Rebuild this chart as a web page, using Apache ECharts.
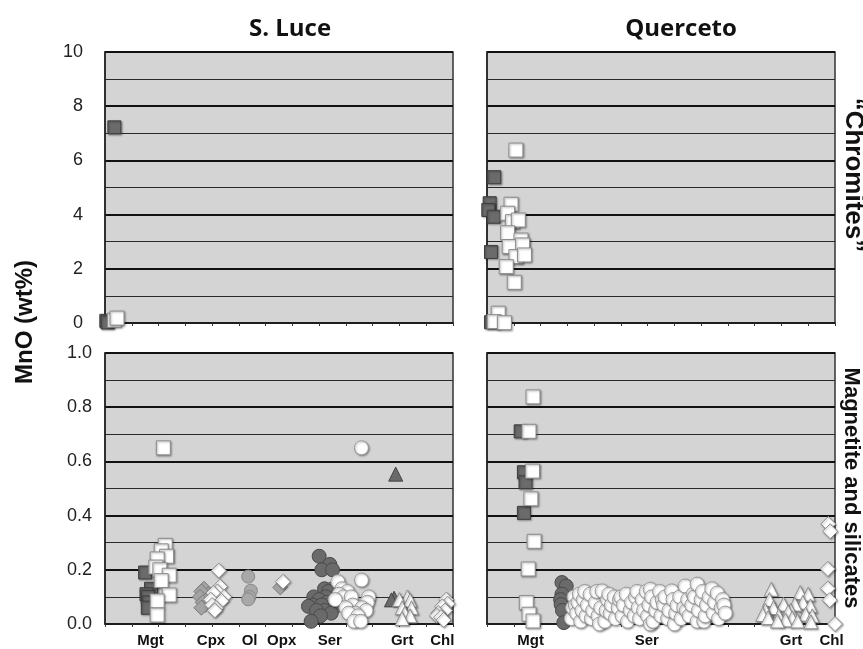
<!DOCTYPE html>
<html>
<head>
<meta charset="utf-8">
<script src="https://cdn.jsdelivr.net/npm/echarts@6/dist/echarts.min.js"></script>
<style>
  html, body { margin: 0; padding: 0; background: #ffffff; }
  #chart { width: 863px; height: 649px; }
</style>
</head>
<body>
<div id="chart"></div>
<script>
// ---- Panel titles and axis texts ----
const siteNames = ['S. Luce', 'Querceto'];
const yAxisTitle = 'MnO (wt%)';
const rowTitles = ['\u201CChromites\u201D', 'Magnetite and silicates'];

// ---- Mineral labels along the bottom axes (position in axis units) ----
const sLuceMinerals = ['Mgt', 'Cpx', 'Ol', 'Opx', 'Ser', 'Grt', 'Chl'];
const sLuceMineralAt = [1.7, 3.96, 5.4, 6.6, 8.4, 11.1, 12.6];
const quercetoMinerals = ['Mgt', 'Ser', 'Grt', 'Chl'];
const quercetoMineralAt = [1.63, 5.97, 11.36, 12.87];
const xTickValues = [0, 1, 2, 3, 4, 5, 6, 7, 8, 9, 10, 11, 12, 13];

// ---- S. Luce, chromite grains: [slot, MnO wt%] ----
const slChrDark = [[0.35, 7.22], [0.05, 0.08], [0.1, 0.02]];
const slChrWhite = [[0.35, 0.1], [0.45, 0.18]];

// ---- Querceto, chromite grains ----
const qcChrDark = [[0.27, 5.38], [0.1, 4.42], [0.05, 4.17], [0.25, 3.92], [0.15, 2.62], [0.15, 0.03]];
const qcChrWhite = [[1.08, 6.38], [0.9, 4.38], [0.77, 4.05], [0.95, 3.74], [1.17, 3.8], [0.77, 3.33],
  [1.27, 3.06], [0.83, 2.82], [1.33, 2.88], [1.08, 2.45], [1.4, 2.51], [0.72, 2.08], [1.02, 1.5],
  [0.42, 0.36], [0.27, 0.05], [0.65, 0.01]];

// ---- S. Luce, magnetite and silicates ----
const slMgtDark = [[1.5, 0.19], [1.72, 0.13], [1.55, 0.11], [1.6, 0.10], [1.65, 0.08], [1.6, 0.06]];
const slMgtWhite = [[2.18, 0.65], [2.25, 0.29], [2.1, 0.27], [2.3, 0.25], [1.95, 0.24], [1.9, 0.21],
  [2.05, 0.2], [2.4, 0.18], [2.1, 0.16], [2.4, 0.107], [1.95, 0.085], [1.95, 0.033]];
const slCpxGray = [[3.7, 0.13], [3.85, 0.11], [3.6, 0.12], [3.55, 0.10], [3.8, 0.09], [3.65, 0.08],
  [3.75, 0.07], [3.6, 0.06]];
const slCpxWhite = [[4.25, 0.197], [4.3, 0.138], [4.2, 0.12], [4.05, 0.114], [4.45, 0.1], [3.95, 0.09],
  [4.35, 0.085], [4.0, 0.07], [4.15, 0.059], [4.1, 0.05]];
const slOl = [[5.35, 0.175], [5.45, 0.123], [5.4, 0.1], [5.35, 0.091]];
const slOpxGray = [[6.55, 0.135]];
const slOpxWhite = [[6.65, 0.156]];
const slSerDark = [[8.0, 0.25], [8.4, 0.22], [8.1, 0.2], [8.5, 0.2], [8.2, 0.13], [8.5, 0.13],
  [8.35, 0.12], [7.8, 0.1], [8.6, 0.1], [8.25, 0.1], [8.0, 0.09], [8.3, 0.08], [7.75, 0.07],
  [8.1, 0.07], [7.6, 0.065], [8.55, 0.06], [8.2, 0.05], [7.9, 0.05], [8.45, 0.04], [8.05, 0.03],
  [7.7, 0.01]];
const slSerWhite = [[9.58, 0.65], [9.58, 0.162], [8.7, 0.156], [8.85, 0.13], [9.05, 0.12], [8.75, 0.11],
  [8.9, 0.1], [9.2, 0.1], [9.85, 0.1], [8.6, 0.09], [9.8, 0.08], [9.25, 0.07], [9.0, 0.06],
  [9.6, 0.06], [9.75, 0.05], [9.35, 0.04], [9.1, 0.04], [9.45, 0.03], [9.3, 0.01], [9.55, 0.01]];
const slGrtDark = [[10.86, 0.553], [10.8, 0.095], [10.7, 0.089]];
const slGrtWhite = [[11.3, 0.1], [11.0, 0.09], [11.4, 0.088], [11.45, 0.06], [11.1, 0.06],
  [11.2, 0.04], [11.4, 0.03], [11.1, 0.02]];
const slChl = [[12.75, 0.09], [12.8, 0.075], [12.6, 0.065], [12.7, 0.05], [12.45, 0.04],
  [12.4, 0.03], [12.55, 0.025], [12.65, 0.015]];

// ---- Querceto, magnetite and silicates ----
const qcMgtDark = [[1.26, 0.711], [1.38, 0.56], [1.44, 0.523], [1.38, 0.41]];
const qcMgtWhite = [[1.72, 0.838], [1.57, 0.711], [1.7, 0.564], [1.64, 0.462], [1.76, 0.305],
  [1.54, 0.203], [1.47, 0.079], [1.57, 0.036], [1.72, 0.011]];
const qcSerDark = [[2.8, 0.153], [2.96, 0.14], [2.8, 0.11], [2.75, 0.09], [2.77, 0.072],
  [2.82, 0.05], [2.87, 0.005]];
const qcSerWhite = [
  [3.15, 0.02], [3.2, 0.06], [3.25, 0.1], [3.3, 0.07], [3.35, 0.04], [3.4, 0.08], [3.45, 0.11],
  [3.5, 0.01], [3.55, 0.05], [3.6, 0.09], [3.65, 0.12], [3.7, 0.03], [3.75, 0.07], [3.85, 0.11],
  [3.9, 0.02], [3.95, 0.05], [4.05, 0.08], [4.1, 0.12], [4.15, 0.03], [4.2, 0.0], [4.25, 0.06],
  [4.3, 0.122], [4.4, 0.01], [4.45, 0.05], [4.5, 0.09], [4.55, 0.11], [4.6, 0.04], [4.65, 0.07],
  [4.75, 0.1], [4.8, 0.02], [4.9, 0.06], [4.95, 0.09], [5.0, 0.1], [5.05, 0.03], [5.1, 0.07],
  [5.2, 0.11], [5.25, 0.01], [5.35, 0.05], [5.4, 0.08], [5.5, 0.03], [5.55, 0.1], [5.6, 0.12],
  [5.65, 0.06], [5.7, 0.02], [5.8, 0.09], [5.85, 0.05], [5.95, 0.12], [6.0, 0.03], [6.05, 0.07],
  [6.1, 0.128], [6.1, 0.0], [6.15, 0.1], [6.2, 0.01], [6.3, 0.05], [6.35, 0.08], [6.45, 0.12],
  [6.5, 0.03], [6.55, 0.09], [6.6, 0.07], [6.65, 0.1], [6.75, 0.02], [6.8, 0.05], [6.9, 0.122],
  [6.95, 0.09], [7.0, 0.0], [7.05, 0.04], [7.1, 0.07], [7.2, 0.1], [7.25, 0.02], [7.35, 0.06],
  [7.4, 0.14], [7.45, 0.05], [7.5, 0.09], [7.55, 0.03], [7.65, 0.07], [7.7, 0.11], [7.75, 0.1],
  [7.85, 0.147], [7.85, 0.01], [7.9, 0.05], [8.0, 0.09], [8.05, 0.12], [8.1, 0.01], [8.15, 0.03],
  [8.2, 0.07], [8.3, 0.1], [8.4, 0.13], [8.45, 0.04], [8.5, 0.08], [8.6, 0.114], [8.65, 0.02],
  [8.75, 0.06], [8.8, 0.09], [8.85, 0.07], [8.9, 0.04]];
const qcGrtLight = [[10.4, 0.04], [10.6, 0.03], [11.3, 0.035], [11.6, 0.04], [10.95, 0.05]];
const qcGrtWhite = [[10.62, 0.128], [11.7, 0.116], [12.0, 0.11], [10.55, 0.09], [11.8, 0.08],
  [11.08, 0.073], [11.5, 0.073], [12.08, 0.067], [10.7, 0.06], [10.4, 0.05], [11.35, 0.05],
  [11.25, 0.045], [11.9, 0.036], [10.3, 0.035], [10.9, 0.03], [12.15, 0.03], [11.4, 0.023],
  [10.5, 0.023], [11.15, 0.015], [10.85, 0.011], [11.6, 0.011], [12.1, 0.008]];
const qcChl = [[12.75, 0.369], [12.82, 0.342], [12.73, 0.203], [12.73, 0.131], [12.8, 0.088], [13.0, 0.0]];

// ---- Marker styles (scatter defaults to 0.8 opacity, so force solid fills) ----
const shadow = { shadowColor: 'rgba(0,0,0,0.35)', shadowBlur: 2, shadowOffsetX: 1, shadowOffsetY: 1 };
const styles = {
  darkSquare:  { symbol: 'rect', symbolSize: 13, itemStyle: { color: '#6b6b6b', borderColor: '#3f3f3f', borderWidth: 1, opacity: 1, ...shadow } },
  whiteSquare: { symbol: 'rect', symbolSize: 14, itemStyle: { color: '#ffffff', borderColor: '#8c8c8c', borderWidth: 1, opacity: 1, ...shadow } },
  grayDiamond: { symbol: 'diamond', symbolSize: 15, itemStyle: { color: '#a3a3a3', borderColor: '#7a7a7a', borderWidth: 1, opacity: 1 } },
  whiteDiamond:{ symbol: 'diamond', symbolSize: 15, itemStyle: { color: '#ffffff', borderColor: '#8c8c8c', borderWidth: 1, opacity: 1, ...shadow } },
  grayCircle:  { symbol: 'circle', symbolSize: 13, itemStyle: { color: '#a8a8a8', borderColor: '#888888', borderWidth: 1, opacity: 1 } },
  darkCircle:  { symbol: 'circle', symbolSize: 14, itemStyle: { color: '#6a6a6a', borderColor: '#4a4a4a', borderWidth: 1, opacity: 1 } },
  whiteCircle: { symbol: 'circle', symbolSize: 14, itemStyle: { color: '#ffffff', borderColor: '#9a9a9a', borderWidth: 1, opacity: 1, ...shadow } },
  darkTriangle:{ symbol: 'triangle', symbolSize: 14, itemStyle: { color: '#6a6a6a', borderColor: '#444444', borderWidth: 1, opacity: 1 } },
  lightTriangle:{ symbol: 'triangle', symbolSize: 14, itemStyle: { color: '#c9c9c9', borderColor: '#8c8c8c', borderWidth: 1, opacity: 1 } },
  whiteTriangle:{ symbol: 'triangle', symbolSize: 14, itemStyle: { color: '#ffffff', borderColor: '#8c8c8c', borderWidth: 1, opacity: 1, ...shadow } }
};

// grid index: 0 = S. Luce chromites, 1 = Querceto chromites, 2 = S. Luce silicates, 3 = Querceto silicates
const layers = [
  [slChrDark, 'darkSquare', 0], [slChrWhite, 'whiteSquare', 0],
  [qcChrDark, 'darkSquare', 1], [qcChrWhite, 'whiteSquare', 1],
  [slMgtDark, 'darkSquare', 2], [slMgtWhite, 'whiteSquare', 2],
  [slCpxGray, 'grayDiamond', 2], [slCpxWhite, 'whiteDiamond', 2],
  [slOl, 'grayCircle', 2],
  [slOpxGray, 'grayDiamond', 2], [slOpxWhite, 'whiteDiamond', 2],
  [slSerDark, 'darkCircle', 2], [slSerWhite, 'whiteCircle', 2],
  [slGrtDark, 'darkTriangle', 2], [slGrtWhite, 'whiteTriangle', 2],
  [slChl, 'whiteDiamond', 2],
  [qcMgtDark, 'darkSquare', 3], [qcMgtWhite, 'whiteSquare', 3],
  [qcSerDark, 'darkCircle', 3], [qcSerWhite, 'whiteCircle', 3],
  [qcGrtLight, 'lightTriangle', 3], [qcGrtWhite, 'whiteTriangle', 3],
  [qcChl, 'whiteDiamond', 3]
];

const series = layers.map(([data, key, g]) => ({
  type: 'scatter',
  xAxisIndex: g,
  yAxisIndex: g,
  data: data,
  clip: false,
  symbol: styles[key].symbol,
  symbolSize: styles[key].symbolSize,
  itemStyle: styles[key].itemStyle,
  emphasis: { disabled: true }
}));

const gridBox = [
  { left: 105, top: 52, width: 348, height: 271 },
  { left: 487, top: 52, width: 348, height: 271 },
  { left: 105, top: 353, width: 348, height: 271 },
  { left: 487, top: 353, width: 348, height: 271 }
];
const grids = gridBox.map(b => ({
  ...b, show: true, backgroundColor: '#d4d4d4', borderColor: '#333333', borderWidth: 1.5
}));

function xAxisFor(g, names, at) {
  const labelled = !!names;
  return {
    type: 'value', gridIndex: g, min: 0, max: 13, interval: 1,
    axisLine: { show: true, onZero: false, lineStyle: { color: '#222222', width: 1.5 } },
    axisTick: { show: true, length: 3, customValues: xTickValues, lineStyle: { color: '#333333' } },
    splitLine: { show: false },
    axisLabel: labelled ? {
      show: true,
      customValues: at,
      formatter: v => names[at.indexOf(v)] || '',
      fontFamily: 'Liberation Sans, Arial, sans-serif',
      fontWeight: 'bold', fontSize: 15, color: '#111111', margin: 9
    } : { show: false }
  };
}

function yAxisFor(g, isTop, showLabels) {
  return {
    type: 'value', gridIndex: g, min: 0, max: isTop ? 10 : 1, interval: isTop ? 2 : 0.2,
    axisLine: { show: true, lineStyle: { color: '#222222', width: 1.5 } },
    axisTick: { show: false },
    minorTick: { show: false, splitNumber: 2 },
    splitLine: { show: true, lineStyle: { color: '#111111', width: 2.2 } },
    minorSplitLine: { show: true, lineStyle: { color: '#2a2a2a', width: 1.2 } },
    axisLabel: {
      show: showLabels,
      formatter: v => isTop ? String(v) : v.toFixed(1),
      fontFamily: 'Liberation Sans, Arial, sans-serif',
      fontSize: 18, color: '#222222', margin: isTop ? 22 : 13
    }
  };
}

const chart = echarts.init(document.getElementById('chart'), null, { renderer: 'canvas' });

chart.setOption({
  backgroundColor: '#ffffff',
  animation: false,
  title: [
    { text: siteNames[0], left: 285, top: 12, textAlign: 'center',
      textStyle: { fontFamily: 'Open Sans', fontWeight: 'bold', fontSize: 24, color: '#111111' } },
    { text: siteNames[1], left: 676, top: 12, textAlign: 'center',
      textStyle: { fontFamily: 'Open Sans', fontWeight: 'bold', fontSize: 24, color: '#111111' } }
  ],
  grid: grids,
  xAxis: [
    xAxisFor(0, null, null),
    xAxisFor(1, null, null),
    xAxisFor(2, sLuceMinerals, sLuceMineralAt),
    xAxisFor(3, quercetoMinerals, quercetoMineralAt)
  ],
  yAxis: [
    yAxisFor(0, true, true),
    yAxisFor(1, true, false),
    yAxisFor(2, false, true),
    yAxisFor(3, false, false)
  ],
  graphic: [
    { type: 'text', x: 25, y: 322, rotation: Math.PI / 2,
      style: { text: yAxisTitle, fontFamily: 'Liberation Sans, Arial, sans-serif', fontWeight: 'bold',
               fontSize: 24, fill: '#111111', align: 'center', verticalAlign: 'middle' } },
    { type: 'text', x: 853, y: 175, rotation: -Math.PI / 2,
      style: { text: rowTitles[0], fontFamily: 'Liberation Sans, Arial, sans-serif', fontWeight: 'bold',
               fontSize: 26, fill: '#111111', align: 'center', verticalAlign: 'middle' } },
    { type: 'text', x: 851, y: 488, rotation: -Math.PI / 2,
      style: { text: rowTitles[1], fontFamily: 'Liberation Sans, Arial, sans-serif', fontWeight: 'bold',
               fontSize: 22, fill: '#111111', align: 'center', verticalAlign: 'middle' } }
  ],
  series: series
});
</script>
</body>
</html>
